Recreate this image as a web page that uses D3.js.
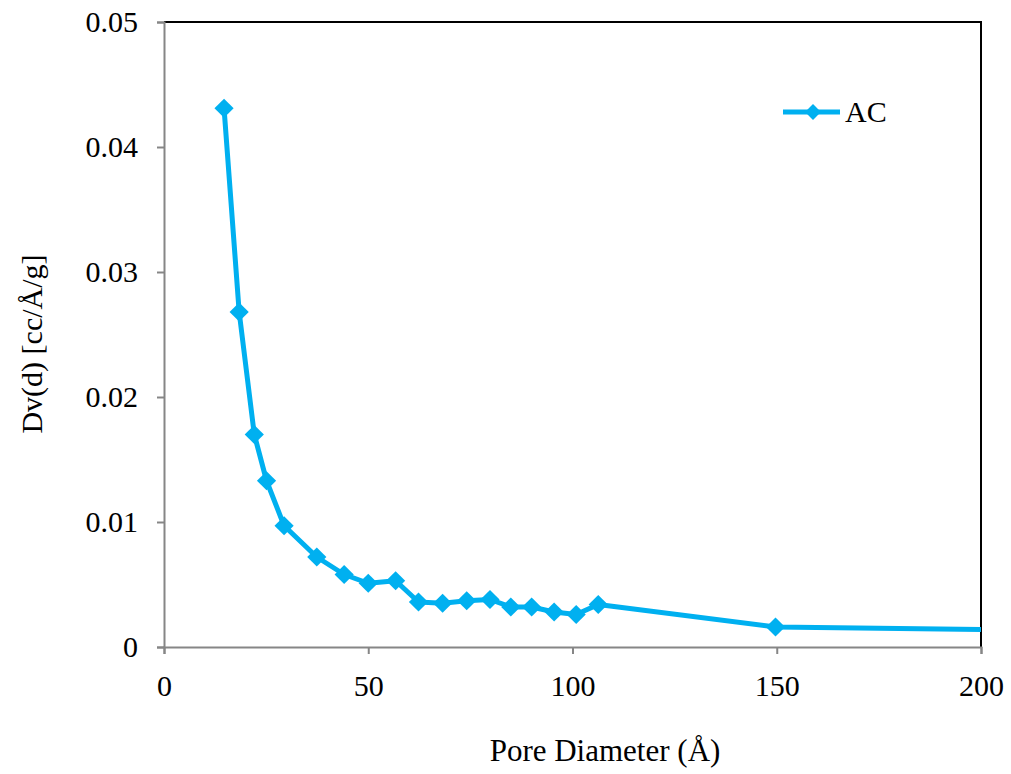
<!DOCTYPE html>
<html>
<head>
<meta charset="utf-8">
<script src="https://cdn.jsdelivr.net/npm/d3@7"></script>
<style>
  body { margin: 0; background: #fff; }
  text { font-family: "Liberation Serif", "Times New Roman", serif; fill: #000; }
</style>
</head>
<body>
<svg width="1011" height="774"></svg>
<script>
// pore diameter (Å) and Dv(d) (cc/Å/g), series "AC"
const diameters = [14.7, 18.4, 22.1, 25.1, 29.4, 37.4, 44.1, 50.0, 56.7, 62.3, 68.2, 74.1, 79.8, 84.9, 90.0, 95.5, 100.9, 106.3, 149.7, 200];
const dvValues  = [0.0431, 0.0268, 0.0170, 0.0133, 0.0097, 0.0072, 0.0058, 0.0051, 0.0053, 0.0036, 0.0035, 0.0037, 0.0038, 0.0032, 0.0032, 0.0028, 0.0026, 0.0034, 0.0016, 0.0014];
const xTicks = [0, 50, 100, 150, 200];
const yTicks = [0, 0.01, 0.02, 0.03, 0.04, 0.05];
const seriesName = 'AC';

const margin = { left: 164, right: 30, top: 22, bottom: 127 };
const width = 1011, height = 774;
const color = '#00B0F0';

const svg = d3.select('svg');

const x = d3.scaleLinear().domain([0, 200]).range([margin.left, width - margin.right]);
const y = d3.scaleLinear().domain([0, 0.05]).range([height - margin.bottom, margin.top]);

// top and right border
svg.append('path')
    .attr('d', `M${x(0)},${y(0.05)}H${x(200)}V${y(0)}`)
    .attr('fill', 'none')
    .attr('stroke', '#000')
    .attr('stroke-width', 2);

const yAxis = svg.append('g')
    .attr('transform', `translate(${x(0)},0)`)
    .call(d3.axisLeft(y).tickValues(yTicks).tickSize(7).tickPadding(19)
        .tickFormat(d => d === 0 ? '0' : d3.format('.2f')(d)));
const xAxis = svg.append('g')
    .attr('transform', `translate(0,${y(0)})`)
    .call(d3.axisBottom(x).tickValues(xTicks).tickSize(7).tickPadding(21));

[xAxis, yAxis].forEach(g => {
    g.select('.domain').attr('stroke', '#868686').attr('stroke-width', 2);
    g.selectAll('.tick line').attr('stroke', '#868686').attr('stroke-width', 2);
    g.selectAll('.tick text').attr('font-size', 30).attr('font-family', '"Liberation Serif", serif').attr('fill', '#000');
});

const points = diameters.map((d, i) => ({ x: d, y: dvValues[i] }));

const line = d3.line().x(d => x(d.x)).y(d => y(d.y));
svg.append('path')
    .datum(points)
    .attr('d', line)
    .attr('fill', 'none')
    .attr('stroke', color)
    .attr('stroke-width', 5)
    .attr('stroke-linejoin', 'round');

const diamond = d3.symbol().type(d3.symbolDiamond2).size(235);
svg.selectAll('.marker')
    .data(points.filter(p => p.x < 200))
    .enter()
    .append('path')
    .attr('class', 'marker')
    .attr('transform', d => `translate(${x(d.x)},${y(d.y)})`)
    .attr('d', diamond)
    .attr('fill', color);

// legend
const legend = svg.append('g').attr('transform', 'translate(783,112)');
legend.append('line').attr('x1', 0).attr('x2', 57).attr('stroke', color).attr('stroke-width', 5);
legend.append('path').attr('transform', 'translate(30,0)').attr('d', d3.symbol().type(d3.symbolDiamond2).size(160)).attr('fill', color);
legend.append('text').attr('x', 62).attr('dy', '0.34em').attr('font-size', 30).text(seriesName);

// axis titles
svg.append('text')
    .attr('x', 605)
    .attr('y', 761)
    .attr('text-anchor', 'middle')
    .attr('font-size', 31)
    .text('Pore Diameter (Å)');
svg.append('text')
    .attr('transform', `translate(42,344) rotate(-90)`)
    .attr('text-anchor', 'middle')
    .attr('font-size', 30)
    .text('Dv(d) [cc/Å/g]');
</script>
</body>
</html>
